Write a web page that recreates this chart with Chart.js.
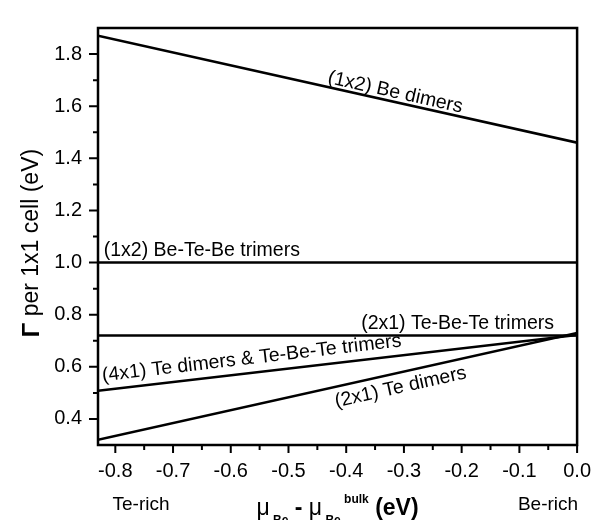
<!DOCTYPE html>
<html>
<head>
<meta charset="utf-8">
<script src="https://cdn.jsdelivr.net/npm/chart.js@4.4.1/dist/chart.umd.min.js"></script>
<style>
  body { margin: 0; background: #fff; }
  canvas { display: block; }
</style>
</head>
<body>
<canvas id="myChart" width="605" height="520"></canvas>
<script>
// Datos: energia de superficie vs potencial quimico del Be
const muX = [-0.83, 0.0];
const beDimers = [1.87, 1.46];
const beTeBeTrimers = [1.0, 1.0];
const teBeTeTrimers = [0.72, 0.72];
const te4x1 = [0.508, 0.722];
const teDimers = [0.32, 0.73];

const seriesNames = [
    "(1x2) Be dimers",
    "(1x2) Be-Te-Be trimers",
    "(2x1) Te-Be-Te trimers",
    "(4x1) Te dimers & Te-Be-Te trimers",
    "(2x1) Te dimers"
];

const xTicks = [-0.8, -0.7, -0.6, -0.5, -0.4, -0.3, -0.2, -0.1, 0.0];
const xMinor = [-0.75, -0.65, -0.55, -0.45, -0.35, -0.25, -0.15, -0.05];
const yTicks = [0.4, 0.6, 0.8, 1.0, 1.2, 1.4, 1.6, 1.8];
const yMinor = [0.5, 0.7, 0.9, 1.1, 1.3, 1.5, 1.7];

const FONT = "'Liberation Sans', Arial, sans-serif";

// etiquetas sobre las lineas (posicion en x del dato, desplazamiento en px)
const notes = [
    { serie: 0, x: -0.435, align: "left", base: "alphabetic", off: -4 },
    { serie: 1, x: -0.82, align: "left", base: "alphabetic", off: -7 },
    { serie: 2, x: -0.04, align: "right", base: "alphabetic", off: -7 },
    { serie: 3, x: -0.82, align: "left", base: "alphabetic", off: -9 },
    { serie: 4, x: -0.425, align: "left", base: "top", off: 5 }
];

const allSeries = [beDimers, beTeBeTrimers, teBeTeTrimers, te4x1, teDimers];

function toPoints(ys) {
    return muX.map((x, i) => ({ x: x, y: ys[i] }));
}

const decoPlugin = {
    id: "deco",
    afterDraw(chart) {
        const ctx = chart.ctx;
        const a = chart.chartArea;
        const sx = chart.scales.x;
        const sy = chart.scales.y;
        ctx.save();
        ctx.strokeStyle = "#000";
        ctx.fillStyle = "#000";

        // marco
        ctx.lineWidth = 2.5;
        ctx.strokeRect(a.left, a.top, a.right - a.left, a.bottom - a.top);

        // marcas de los ejes
        ctx.lineWidth = 2;
        ctx.beginPath();
        xTicks.forEach(v => { const p = sx.getPixelForValue(v); ctx.moveTo(p, a.bottom); ctx.lineTo(p, a.bottom + 8); });
        xMinor.forEach(v => { const p = sx.getPixelForValue(v); ctx.moveTo(p, a.bottom); ctx.lineTo(p, a.bottom + 5); });
        yTicks.forEach(v => { const p = sy.getPixelForValue(v); ctx.moveTo(a.left, p); ctx.lineTo(a.left - 9, p); });
        yMinor.forEach(v => { const p = sy.getPixelForValue(v); ctx.moveTo(a.left, p); ctx.lineTo(a.left - 5, p); });
        ctx.stroke();

        // etiquetas de las curvas
        ctx.font = "19.5px " + FONT;
        notes.forEach(n => {
            const ys = allSeries[n.serie];
            const x0 = sx.getPixelForValue(muX[0]), x1 = sx.getPixelForValue(muX[1]);
            const y0 = sy.getPixelForValue(ys[0]), y1 = sy.getPixelForValue(ys[1]);
            const ang = Math.atan2(y1 - y0, x1 - x0);
            const t = (n.x - muX[0]) / (muX[1] - muX[0]);
            const val = ys[0] + t * (ys[1] - ys[0]);
            ctx.save();
            ctx.translate(sx.getPixelForValue(n.x), sy.getPixelForValue(val));
            ctx.rotate(ang);
            ctx.textAlign = n.align;
            ctx.textBaseline = n.base;
            ctx.fillText(seriesNames[n.serie], 0, n.off);
            ctx.restore();
        });

        // titulo eje y
        ctx.save();
        ctx.translate(32, 243);
        ctx.rotate(-Math.PI / 2);
        ctx.textBaseline = "middle";
        const g = "\u0393";
        const rest = " per 1x1 cell (eV)";
        ctx.font = "bold 24px " + FONT;
        const wg = ctx.measureText(g).width;
        ctx.font = "23px " + FONT;
        const wr = ctx.measureText(rest).width;
        let cx = -(wg + wr) / 2;
        ctx.textAlign = "left";
        ctx.font = "bold 24px " + FONT;
        ctx.fillText(g, cx, 0);
        ctx.font = "23px " + FONT;
        ctx.fillText(rest, cx + wg, 0);
        ctx.restore();

        // titulo eje x
        const parts = [
            { t: "\u03bc", f: "23px " + FONT, dy: 0 },
            { t: " Be", f: "bold 12px " + FONT, dy: 9 },
            { t: " - ", f: "bold 23px " + FONT, dy: 0 },
            { t: "\u03bc", f: "23px " + FONT, dy: 0 },
            { t: " Be", f: "bold 12px " + FONT, dy: 9 },
            { t: " bulk", f: "bold 12px " + FONT, dy: -12 },
            { t: " (eV)", f: "bold 23px " + FONT, dy: 0 }
        ];
        let total = 0;
        parts.forEach(p => { ctx.font = p.f; p.w = ctx.measureText(p.t).width; total += p.w; });
        let px = (a.left + a.right) / 2 - total / 2;
        ctx.textAlign = "left";
        ctx.textBaseline = "alphabetic";
        parts.forEach(p => { ctx.font = p.f; ctx.fillText(p.t, px, 515 + p.dy); px += p.w; });

        ctx.font = "19px " + FONT;
        ctx.textAlign = "center";
        ctx.fillText("Te-rich", 141, 510);
        ctx.fillText("Be-rich", 548, 510);
        ctx.restore();
    }
};

const ctx = document.getElementById("myChart").getContext("2d");
let myChart = new Chart(ctx, {
    type: "scatter",
    data: {
        datasets: allSeries.map((ys, i) => ({
            label: seriesNames[i],
            data: toPoints(ys),
            showLine: true,
            borderColor: "#000",
            borderWidth: 2.5,
            pointRadius: 0,
            fill: false
        }))
    },
    options: {
        responsive: false,
        animation: false,
        layout: { padding: { top: 7, right: 24, left: 0, bottom: 0 } },
        plugins: {
            legend: { display: false },
            tooltip: { enabled: false }
        },
        scales: {
            x: {
                type: "linear",
                min: -0.83,
                max: 0,
                afterBuildTicks: s => { s.ticks = xTicks.map(v => ({ value: v })); },
                afterFit: s => { s.height = 75; },
                grid: { display: false, drawTicks: false },
                border: { display: false },
                ticks: {
                    color: "#000",
                    font: { family: FONT, size: 20 },
                    padding: 14,
                    maxRotation: 0,
                    callback: v => v.toFixed(1)
                }
            },
            y: {
                type: "linear",
                min: 0.3,
                max: 1.9,
                afterBuildTicks: s => { s.ticks = yTicks.map(v => ({ value: v })); },
                afterFit: s => { s.width = 98; },
                grid: { display: false, drawTicks: false },
                border: { display: false },
                ticks: {
                    color: "#000",
                    font: { family: FONT, size: 20 },
                    padding: 16,
                    callback: v => v.toFixed(1)
                }
            }
        }
    },
    plugins: [decoPlugin]
});
</script>
</body>
</html>
